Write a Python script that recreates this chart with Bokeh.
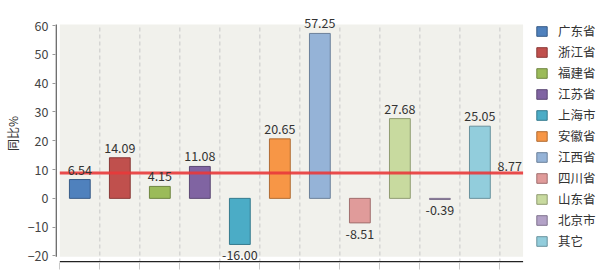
from bokeh.plotting import figure
from bokeh.models import ColumnDataSource, Range1d, FixedTicker, Legend, LegendItem
from bokeh.core.properties import value
from bokeh.embed import file_html
from bokeh.resources import INLINE

categories = ["广东省", "浙江省", "福建省", "江苏省", "上海市", "安徽省", "江西省", "四川省", "山东省", "北京市", "其它"]
values = [6.54, 14.09, 4.15, 11.08, -16.00, 20.65, 57.25, -8.51, 27.68, -0.39, 25.05]
average = 8.77
colors = ["#4f81bd", "#c0504d", "#9bbb59", "#8064a2", "#4bacc6", "#f79646",
          "#95b3d7", "#e09b9a", "#c8da9f", "#b3a2c7", "#92cddc"]
y_ticks = [-20, -10, 0, 10, 20, 30, 40, 50, 60]


def darker(h, f=0.72):
    h = h.lstrip("#")
    r, g, b = (int(h[i:i + 2], 16) for i in (0, 2, 4))
    return "#%02x%02x%02x" % (int(r * f), int(g * f), int(b * f))


FONT = "Noto Sans CJK SC"
n = len(categories)
xs = list(range(1, n + 1))
line_colors = [darker(c) for c in colors]
labels = ["%.2f" % v for v in values]

src = ColumnDataSource(dict(x=xs, top=values, cat=categories, fill=colors, line=line_colors, lab=labels))

# frame spans from x=51 px to the right edge of the page; plot area ends at X_AREA
X0, X1 = 0.392, 14.015
X_AREA = 12.08
Y0, Y1 = -22.26, 67.29
AREA_TOP = 60.35
AREA_BOTTOM = -20.3

p = figure(width=600, height=275, output_backend="svg", toolbar_location=None,
           x_range=Range1d(X0, X1), y_range=Range1d(Y0, Y1),
           min_border_left=51, min_border_right=0, min_border_top=4, min_border_bottom=13)
p.background_fill_color = "white"
p.border_fill_color = "white"
p.outline_line_color = None
p.grid.grid_line_color = None

# plot area background
p.quad(left=[0.5], right=[X_AREA], bottom=[AREA_BOTTOM], top=[AREA_TOP], fill_color="#f1f1ec", line_color=None)

# dashed vertical separators
bounds = [i + 0.5 for i in range(1, n + 1)]
p.segment(x0=bounds, x1=bounds, y0=[Y0] * n, y1=[AREA_TOP] * n,
          line_color="#c8c8c8", line_dash="4 3", line_width=1)

# x axis (ticks only)
p.xaxis.ticker = FixedTicker(ticks=[i + 0.5 for i in range(0, n + 1)])
p.xaxis.major_label_overrides = {i + 0.5: "" for i in range(0, n + 1)}
p.xaxis.major_label_standoff = 0
p.xaxis.axis_line_color = None
p.xaxis.major_tick_out = 7
p.xaxis.major_tick_in = 0
p.xaxis.major_tick_line_color = "#c8c8c8"
p.xaxis.minor_tick_line_color = None
p.segment(x0=[0.5], x1=[X_AREA], y0=[Y0 + 0.25], y1=[Y0 + 0.25], line_color="#222222", line_width=1.5)

# y axis
p.yaxis.ticker = FixedTicker(ticks=y_ticks)
p.yaxis.axis_label = "同比%"
p.yaxis.axis_label_text_font = FONT
p.yaxis.axis_label_text_font_size = "12px"
p.yaxis.axis_label_text_font_style = "normal"
p.yaxis.axis_label_text_color = "#333333"
p.yaxis.axis_label_standoff = 4
p.yaxis.major_label_text_font = FONT
p.yaxis.major_label_text_font_size = "12.5px"
p.yaxis.major_label_text_color = "#444444"
p.yaxis.major_label_standoff = 4
p.yaxis.axis_line_color = None
p.yaxis.major_tick_line_color = "#999999"
p.yaxis.major_tick_out = 3
p.yaxis.major_tick_in = 0
p.yaxis.minor_tick_line_color = None
p.segment(x0=[X0 + 0.015], x1=[X0 + 0.015], y0=[AREA_BOTTOM], y1=[AREA_TOP],
          line_color="#333333", line_width=1.2)

bars = p.vbar(x="x", top="top", bottom=0, width=0.52, source=src,
              fill_color="fill", line_color="line", line_width=1)

# average line
p.segment(x0=[0.5], x1=[X_AREA], y0=[average], y1=[average], line_color="#e8393a", line_width=3, line_alpha=0.9)
p.text(x=[X_AREA - 0.03], y=[average], text=["%.2f" % average], text_align="right", text_baseline="bottom",
       y_offset=-2, text_font=value(FONT), text_font_size="12.5px", text_color="#333333")

# value labels
pos = [i for i, v in enumerate(values) if v >= 0]
neg = [i for i, v in enumerate(values) if v < 0]
p.text(x=[xs[i] for i in pos], y=[values[i] for i in pos], text=[labels[i] for i in pos],
       text_align="center", text_baseline="bottom", y_offset=-5,
       text_font=value(FONT), text_font_size="12.5px", text_color="#333333")
p.text(x=[xs[i] for i in neg], y=[values[i] for i in neg], text=[labels[i] for i in neg],
       text_align="center", text_baseline="top", y_offset=6,
       text_font=value(FONT), text_font_size="12.5px", text_color="#333333")

items = [LegendItem(label=c, renderers=[bars], index=i) for i, c in enumerate(categories)]
legend = Legend(items=items, location=(480, 12), orientation="vertical",
                glyph_width=13, glyph_height=12, label_height=12, spacing=2,
                label_standoff=10, padding=0, margin=0,
                label_text_font=FONT, label_text_font_size="12.5px", label_text_color="#333333",
                border_line_color=None, background_fill_alpha=0)
p.add_layout(legend, "center")

open("out.html", "w").write(file_html(p, INLINE))
